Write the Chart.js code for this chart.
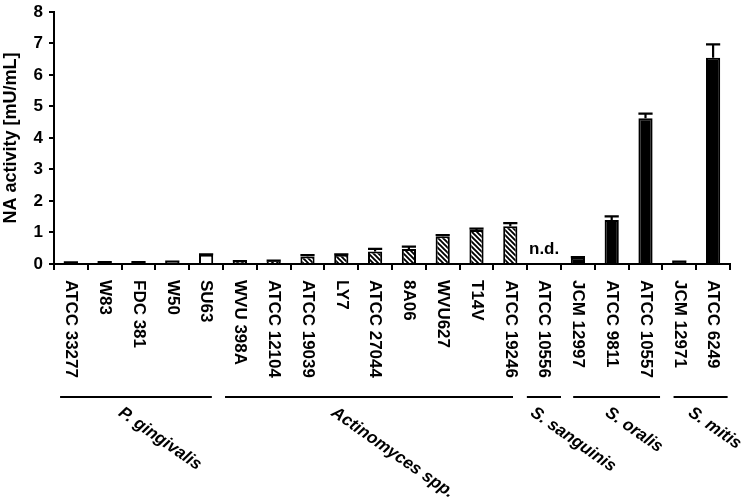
<!DOCTYPE html>
<html>
<head>
<meta charset="utf-8">
<script src="https://cdn.jsdelivr.net/npm/chart.js@4"></script>
<style>
  html, body { margin: 0; background: #fff; }
</style>
</head>
<body>
<canvas id="chart" width="756" height="499"></canvas>
<script>
// Data
const strains = ['ATCC 33277', 'W83', 'FDC 381', 'W50', 'SU63',
    'WVU 398A', 'ATCC 12104', 'ATCC 19039', 'LY7', 'ATCC 27044', '8A06', 'WVU627', 'T14V', 'ATCC 19246',
    'ATCC 10556',
    'JCM 12997', 'ATCC 9811', 'ATCC 10557',
    'JCM 12971', 'ATCC 6249'];
const activity = [0.04, 0.05, 0.05, 0.07, 0.29,
    0.08, 0.09, 0.24, 0.29, 0.40, 0.48, 0.88, 1.08, 1.20,
    null,
    0.20, 1.40, 4.63,
    0.07, 6.55];
const sem = [0.01, 0.01, 0.01, 0.01, 0.02,
    0.01, 0.02, 0.04, 0.02, 0.08, 0.07, 0.04, 0.04, 0.10,
    0,
    0.02, 0.11, 0.14,
    0.01, 0.42];
const groupNames = ['P. gingivalis', 'Actinomyces spp.', 'S. sanguinis', 'S. oralis', 'S. mitis'];
const groupSizes = [5, 9, 1, 3, 2];
const groupFill = ['open', 'hatch', 'solid', 'solid', 'solid'];
const yMax = 8;

// Layout of the group rules/labels (in category units)
const groupLine = [[-0.32, 4.17], [4.56, 13.08], [13.49, 14.5], [14.86, 17.43], [17.83, 19.43]];
const groupText = [1.6, 7.9, 13.79, 16.0, 18.46];

const FONT = '"Liberation Sans", Arial, Helvetica, sans-serif';
const canvas = document.getElementById('chart');
const ctx = canvas.getContext('2d');

function makeHatch() {
    const s = 5;
    const p = document.createElement('canvas');
    p.width = p.height = s;
    const g = p.getContext('2d');
    g.fillStyle = '#fff';
    g.fillRect(0, 0, s, s);
    g.strokeStyle = '#000';
    g.lineWidth = 1.9;
    g.beginPath();
    for (let k = -1; k <= 1; k++) {
        g.moveTo(k * s - s, -s);
        g.lineTo(k * s + 2 * s, 2 * s);
    }
    g.stroke();
    return ctx.createPattern(p, 'repeat');
}
const hatch = makeHatch();

// colour of each bar from its group
const fills = [];
groupSizes.forEach((n, gi) => {
    for (let i = 0; i < n; i++) {
        fills.push(groupFill[gi] === 'open' ? '#fff' : groupFill[gi] === 'hatch' ? hatch : '#000');
    }
});

const overlay = {
    id: 'overlay',
    afterDatasetsDraw(chart) {
        const c = chart.ctx;
        const x = chart.scales.x, y = chart.scales.y;
        const catW = x.getPixelForValue(1) - x.getPixelForValue(0);
        const meta = chart.getDatasetMeta(0);
        c.save();
        // error bars
        c.strokeStyle = '#000';
        c.lineWidth = 2.2;
        activity.forEach((v, i) => {
            if (v === null || !sem[i]) return;
            const bar = meta.data[i];
            const px = bar.x, half = bar.width / 2;
            const top = y.getPixelForValue(v + sem[i]);
            c.beginPath();
            c.moveTo(px, y.getPixelForValue(v));
            c.lineTo(px, top);
            c.moveTo(px - half, top);
            c.lineTo(px + half, top);
            c.stroke();
        });
        // n.d.
        c.fillStyle = '#000';
        c.font = 'bold 17px ' + FONT;
        c.textAlign = 'center';
        c.textBaseline = 'alphabetic';
        activity.forEach((v, i) => {
            if (v === null) c.fillText('n.d.', x.getPixelForValue(i), y.getPixelForValue(0) - 10);
        });
        // strain labels, rotated clockwise
        c.textAlign = 'left';
        c.textBaseline = 'middle';
        strains.forEach((s, i) => {
            c.save();
            c.translate(x.getPixelForValue(i), y.bottom + 16);
            c.rotate(Math.PI / 2);
            c.fillText(s, 0, 0);
            c.restore();
        });
        // group rules and names
        const toPx = v => x.getPixelForValue(0) + v * catW;
        c.lineWidth = 2;
        groupLine.forEach(([a, b]) => {
            c.beginPath();
            c.moveTo(toPx(a), 397);
            c.lineTo(toPx(b), 397);
            c.stroke();
        });
        c.font = 'italic bold 17px ' + FONT;
        c.textBaseline = 'top';
        groupNames.forEach((name, gi) => {
            c.save();
            c.translate(toPx(groupText[gi]), 404);
            c.rotate(35 * Math.PI / 180);
            c.fillText(name, 0, 0);
            c.restore();
        });
        c.restore();
    }
};

new Chart(ctx, {
    type: 'bar',
    data: {
        labels: strains,
        datasets: [{
            data: activity,
            backgroundColor: fills,
            borderColor: '#000',
            borderWidth: 2,
            borderSkipped: 'bottom',
            barPercentage: 0.42,
            categoryPercentage: 1
        }]
    },
    options: {
        responsive: false,
        animation: false,
        layout: { padding: { top: 6, right: 26, left: 0, bottom: 0 } },
        plugins: { legend: { display: false }, tooltip: { enabled: false } },
        scales: {
            x: {
                offset: true,
                grid: { drawOnChartArea: false, offset: true, tickLength: 6, color: '#000', lineWidth: 2 },
                border: { color: '#000', width: 2 },
                ticks: { display: false },
                afterFit: s => { s.height = 235; }
            },
            y: {
                min: 0,
                max: yMax,
                ticks: {
                    stepSize: 1,
                    color: '#000',
                    padding: 6,
                    font: { family: FONT, size: 17, weight: 'bold', lineHeight: 0.7 }
                },
                grid: { drawOnChartArea: false, tickLength: 5, color: '#000', lineWidth: 2 },
                border: { color: '#000', width: 2 },
                title: {
                    display: true,
                    text: 'NA activity [mU/mL]',
                    color: '#000',
                    padding: 0,
                    font: { family: FONT, size: 18, weight: 'bold' }
                },
                afterFit: s => { s.width = 54; }
            }
        }
    },
    plugins: [overlay]
});
</script>
</body>
</html>
